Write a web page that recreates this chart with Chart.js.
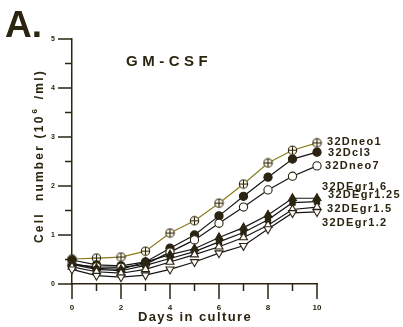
<!DOCTYPE html>
<html><head><meta charset="utf-8">
<style>html,body{margin:0;padding:0;background:#fff}#wrap{width:403px;height:327px}</style>
<script src="https://cdn.jsdelivr.net/npm/chart.js@4.4.1/dist/chart.umd.min.js"></script>
</head><body><div id="wrap"><canvas id="c" width="403" height="327"></canvas></div>
<script>
const days = [0,1,2,3,4,5,6,7,8,9,10];
const seriesNames = ['32Dneo1','32Dcl3','32Dneo7','32DEgr1.6','32DEgr1.25','32DEgr1.5','32DEgr1.2'];
const neo1   = [0.51,0.53,0.55,0.67,1.04,1.29,1.65,2.04,2.47,2.73,2.88];
const dcl3   = [0.49,0.39,0.37,0.45,0.73,1.00,1.39,1.79,2.18,2.55,2.69];
const neo7   = [0.40,0.35,0.34,0.40,0.65,0.90,1.24,1.57,1.92,2.20,2.41];
const egr16  = [0.42,0.32,0.30,0.45,0.60,0.72,0.95,1.15,1.41,1.75,1.75];
const egr125 = [0.40,0.30,0.27,0.38,0.52,0.66,0.86,1.05,1.31,1.66,1.68];
const egr15  = [0.35,0.25,0.22,0.30,0.45,0.60,0.76,0.95,1.20,1.52,1.57];
const egr12  = [0.30,0.17,0.14,0.18,0.30,0.45,0.63,0.78,1.12,1.45,1.47];
const yTickLabels = [0,1,2,3,4,5];
const xTickLabels = [0,2,4,6,8,10];
const panelLabel = 'A.';
const chartTitle = 'GM-CSF';
const xTitle = 'Days in culture';

const INK = '#2a2410';
const allSeries = [neo1,dcl3,neo7,egr16,egr125,egr15,egr12];

// crossed-circle marker
const cc = document.createElement('canvas');
cc.width = 11; cc.height = 11;
(function(){const g=cc.getContext('2d');g.lineWidth=1.1;g.strokeStyle=INK;g.fillStyle='#fffbe6';
g.beginPath();g.arc(5.5,5.5,4.2,0,Math.PI*2);g.fill();g.stroke();
g.beginPath();g.moveTo(1.5,5.5);g.lineTo(9.5,5.5);g.moveTo(5.5,1.5);g.lineTo(5.5,9.5);g.stroke();})();

const styles = [
  {pointStyle: cc, fill:'#fff', line:'#8a7c1c', r:5.5},
  {pointStyle:'circle', fill:INK, line:'#151515', r:4.1},
  {pointStyle:'circle', fill:'#fff', line:'#151515', r:4.1},
  {pointStyle:'triangle', fill:INK, line:'#151515', r:4.6},
  {pointStyle:'rect', fill:INK, line:'#151515', r:3.7},
  {pointStyle:'triangle', fill:'#fff', line:'#151515', r:4.6},
  {pointStyle:'triangle', fill:'#fff', line:'#151515', r:4.6, rot:180}
];
const labelOffsets = [[10,-1],[11,1],[8,0],[5,-11],[11,-7],[10,2],[5,11]];

const datasets = allSeries.map((s,i)=>({
  label: seriesNames[i],
  data: days.map((d,j)=>({x:d,y:s[j]})),
  borderColor: styles[i].line,
  borderWidth: 1.2,
  pointStyle: styles[i].pointStyle,
  pointRadius: styles[i].r,
  pointRotation: styles[i].rot||0,
  pointBackgroundColor: styles[i].fill,
  pointBorderColor: INK,
  pointBorderWidth: 1.1,
  tension: 0,
  clip: false
})).reverse();

function spaced(ctx, text, x, y, sp){ ctx.letterSpacing = sp+'px'; ctx.fillText(text,x,y); ctx.letterSpacing='0px'; }

const decor = {
  id:'decor',
  afterDraw(chart){
    const ctx = chart.ctx, xs = chart.scales.x, ys = chart.scales.y;
    ctx.save();
    ctx.strokeStyle = INK; ctx.lineWidth = 1.5;
    for(let v=0; v<=5.001; v+=0.5){
      const py = ys.getPixelForValue(v), L = (Math.abs(v-Math.round(v))<1e-6)?14:7;
      ctx.beginPath(); ctx.moveTo(xs.left - L, py); ctx.lineTo(xs.left, py); ctx.stroke();
    }
    for(let d=0; d<=10; d++){
      const px = xs.getPixelForValue(d), L = d%2===0?15:7;
      ctx.beginPath(); ctx.moveTo(px, ys.bottom); ctx.lineTo(px, ys.bottom+L); ctx.stroke();
    }
    ctx.fillStyle = INK;
    ctx.font = 'bold 37px Arial, "Liberation Sans", sans-serif';
    ctx.textBaseline = 'alphabetic'; ctx.textAlign='left';
    ctx.fillText(panelLabel, 5, 37);
    ctx.font = 'bold 15px Arial, "Liberation Sans", sans-serif';
    ctx.textBaseline = 'middle';
    spaced(ctx, chartTitle, 126, 62, 4.5);
    ctx.font = 'bold 13px Arial, "Liberation Sans", sans-serif';
    ctx.textAlign='center';
    spaced(ctx, xTitle, 195, 317, 1.4);
    ctx.save();
    ctx.translate(40, 243); ctx.rotate(-Math.PI/2);
    ctx.textAlign='left'; ctx.textBaseline='middle';
    ctx.font = 'bold 12px Arial, "Liberation Sans", sans-serif';
    ctx.letterSpacing='2.2px';
    let t1 = 'Cell  number (10';
    ctx.fillText(t1, 0, 0);
    let w = ctx.measureText(t1).width;
    ctx.font = 'bold 8px Arial, "Liberation Sans", sans-serif';
    ctx.fillText('6', w+1, -5);
    w += ctx.measureText('6').width + 3;
    ctx.font = 'bold 12px Arial, "Liberation Sans", sans-serif';
    ctx.fillText(' /ml)', w, 0);
    ctx.letterSpacing='0px';
    ctx.restore();
    ctx.font = 'bold 11px Arial, "Liberation Sans", sans-serif';
    ctx.textAlign='left'; ctx.textBaseline='middle';
    chart.data.datasets.forEach((ds,k)=>{
      const i = seriesNames.indexOf(ds.label);
      const meta = chart.getDatasetMeta(k);
      const el = meta.data[meta.data.length-1];
      spaced(ctx, ds.label, el.x + labelOffsets[i][0], el.y + labelOffsets[i][1], 1.3);
    });
    ctx.restore();
  }
};

new Chart(document.getElementById('c'), {
  type:'line',
  data:{datasets},
  options:{
    responsive:false, animation:false,
    layout:{padding:{left:0,right:86,top:39,bottom:0}},
    plugins:{legend:{display:false}, tooltip:{enabled:false}},
    scales:{
      x:{type:'linear', min:0, max:10,
        ticks:{stepSize:1, autoSkip:false, maxRotation:0, padding:4, color:INK,
          font:{size:8, weight:'bold', family:'Arial, "Liberation Sans", sans-serif'},
          callback:v=> xTickLabels.includes(v)? String(v):''},
        grid:{display:true, drawOnChartArea:false, tickLength:15, tickColor:'transparent'},
        border:{display:true, color:INK, width:1.5},
        afterFit:s=>{s.height=43;}
      },
      y:{type:'linear', min:0, max:5,
        ticks:{stepSize:0.5, autoSkip:false, padding:3, color:INK,
          font:{size:7, weight:'bold', family:'Arial, "Liberation Sans", sans-serif'},
          callback:v=> yTickLabels.includes(v)? String(v):''},
        grid:{display:true, drawOnChartArea:false, tickLength:14, tickColor:'transparent'},
        border:{display:true, color:INK, width:1.5},
        afterFit:s=>{s.width=72;}
      }
    }
  },
  plugins:[decor]
});
</script></body></html>
